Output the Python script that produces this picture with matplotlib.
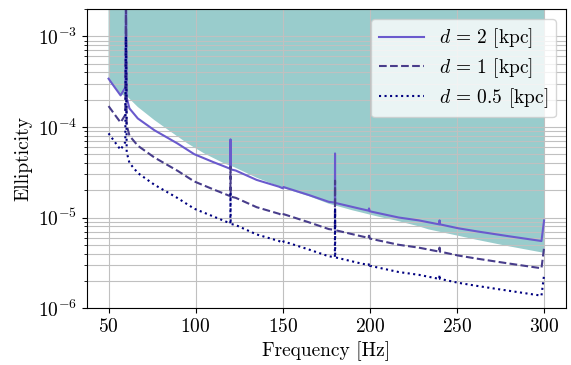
import matplotlib

matplotlib.use("Agg")

import matplotlib.pyplot as plt


# frequencies [Hz] shared by the three ellipticity curves
FREQ = [
    50, 53.4, 56.9, 59.6, 60, 60.4, 62, 66.8, 76.3, 89.6, 99.2, 110,
    119.9, 120, 120.1, 123, 135, 147.8, 150, 150.4, 165, 176.4, 179.9,
    180, 180.1, 193.6, 199.3, 199.5, 200, 216.5, 228, 239.8, 240, 240.2,
    250.8, 262, 280, 298.5, 300,
]

EPS_D2 = [
    3.41e-4, 2.76e-4, 2.23e-4, 2.72e-4, 4.0e-3, 2.1e-4, 1.6e-4, 1.24e-4,
    9.2e-5, 6.56e-5, 5.0e-5, 4.1e-5, 3.45e-5, 7.3e-5, 3.4e-5, 3.3e-5,
    2.6e-5, 2.19e-5, 2.1e-5, 2.17e-5, 1.77e-5, 1.49e-5, 1.46e-5, 5.1e-5,
    1.45e-5, 1.26e-5, 1.19e-5, 1.26e-5, 1.17e-5, 1.0e-5, 9.3e-6, 8.4e-6,
    9.3e-6, 8.4e-6, 7.6e-6, 7.0e-6, 6.2e-6, 5.5e-6, 9.3e-6,
]

EPS_D1 = [
    1.70e-4, 1.38e-4, 1.12e-4, 1.36e-4, 2.0e-3, 1.05e-4, 8.0e-5, 6.2e-5,
    4.6e-5, 3.28e-5, 2.5e-5, 2.05e-5, 1.72e-5, 3.65e-5, 1.7e-5, 1.65e-5,
    1.3e-5, 1.1e-5, 1.05e-5, 1.09e-5, 8.85e-6, 7.45e-6, 7.3e-6, 2.55e-5,
    7.25e-6, 6.3e-6, 5.95e-6, 6.3e-6, 5.85e-6, 5.0e-6, 4.65e-6, 4.2e-6,
    4.65e-6, 4.2e-6, 3.8e-6, 3.5e-6, 3.1e-6, 2.75e-6, 4.65e-6,
]

EPS_D05 = [
    8.5e-5, 6.9e-5, 5.6e-5, 6.8e-5, 1.0e-3, 5.25e-5, 4.0e-5, 3.1e-5,
    2.3e-5, 1.64e-5, 1.25e-5, 1.03e-5, 8.6e-6, 1.83e-5, 8.5e-6, 8.25e-6,
    6.5e-6, 5.5e-6, 5.25e-6, 5.45e-6, 4.43e-6, 3.73e-6, 3.65e-6, 1.28e-5,
    3.63e-6, 3.15e-6, 2.98e-6, 3.15e-6, 2.93e-6, 2.5e-6, 2.33e-6, 2.1e-6,
    2.33e-6, 2.1e-6, 1.9e-6, 1.75e-6, 1.55e-6, 1.37e-6, 2.33e-6,
]

# lower edge of the shaded region
FILL_FREQ = [
    50, 53.4, 56.9, 61, 66.8, 76.3, 85.9, 95.4, 104.9, 116.4, 122.1, 135,
    150, 165, 176.4, 190, 205, 214.6, 228, 233.6, 262, 280, 300,
]

FILL_LOW = [
    3.45e-4, 2.8e-4, 2.3e-4, 2.14e-4, 1.66e-4, 1.19e-4, 8.8e-5, 6.56e-5,
    5.1e-5, 3.95e-5, 3.6e-5, 2.75e-5, 2.12e-5, 1.72e-5, 1.42e-5, 1.2e-5,
    1.02e-5, 9.3e-6, 8.0e-6, 7.4e-6, 5.64e-6, 4.8e-6, 4.07e-6,
]

LABELS = [r"$d\,=\,2$ [kpc]", r"$d\,=\,1$ [kpc]", r"$d\,=\,0.5$ [kpc]"]


def main():
    plt.rcParams["font.family"] = "serif"
    plt.rcParams["font.serif"] = ["cmr10"]
    plt.rcParams["mathtext.fontset"] = "cm"
    plt.rcParams["axes.formatter.use_mathtext"] = True
    plt.rcParams["axes.unicode_minus"] = True

    fig, ax = plt.subplots(figsize=(5.71, 3.65), dpi=100)
    fig.subplots_adjust(left=0.152, right=0.991, top=0.975, bottom=0.156)

    ax.fill_between(FILL_FREQ, FILL_LOW, 1.0, color="teal", alpha=0.4,
                    linewidth=0)

    ax.plot(FREQ, EPS_D2, color="slateblue", linestyle="-", lw=1.5,
            label=LABELS[0])
    ax.plot(FREQ, EPS_D1, color="darkslateblue", linestyle="--", lw=1.5,
            label=LABELS[1])
    ax.plot(FREQ, EPS_D05, color="navy", linestyle=":", lw=1.5,
            label=LABELS[2])

    ax.set_yscale("log")
    ax.set_xlim(37.5, 312.5)
    ax.set_ylim(1e-6, 2e-3)
    ax.set_xticks([50, 100, 150, 200, 250, 300])

    ax.grid(True, which="both", color="#c0c0c0", lw=0.8)
    ax.tick_params(labelsize=14)
    ax.set_xlabel("Frequency [Hz]", fontsize=14)
    ax.set_ylabel("Ellipticity", fontsize=14)
    ax.legend(loc="upper right", fontsize=14, labelspacing=0.3,
              handlelength=2.3)

    fig.savefig("out.png", dpi=100)
    plt.close(fig)


if __name__ == "__main__":
    main()
